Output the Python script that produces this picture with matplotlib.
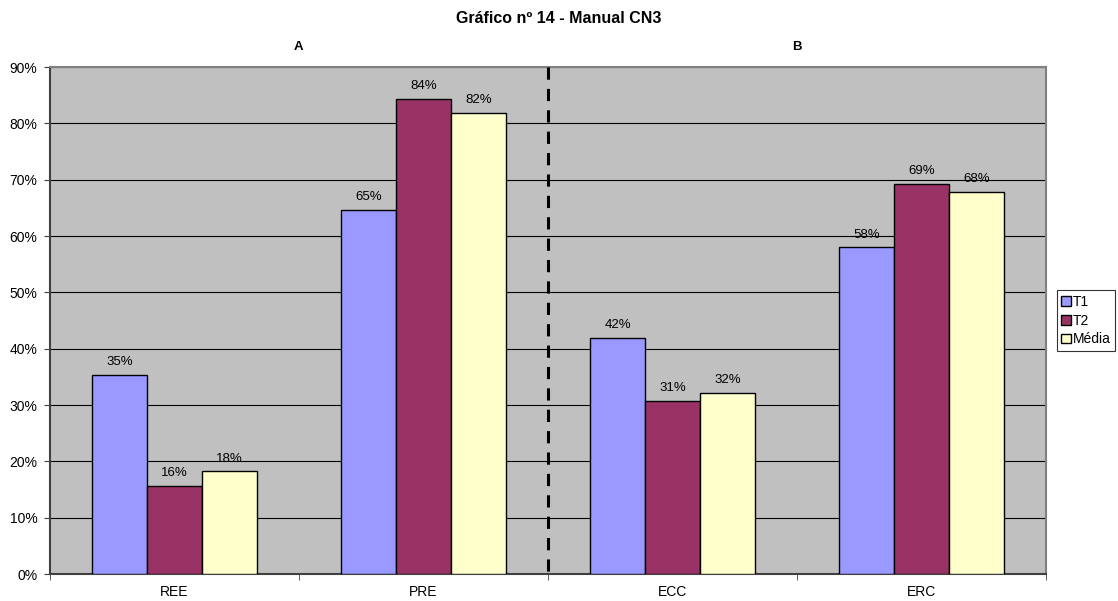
import numpy as np
import matplotlib
matplotlib.use('Agg')
from matplotlib import pyplot as plt
from matplotlib.ticker import FixedLocator, NullFormatter

plt.rcParams['font.family'] = ['Liberation Sans', 'DejaVu Sans']

categories = ['REE', 'PRE', 'ECC', 'ERC']
series = ['T1', 'T2', 'Média']
t1 = [35.4, 64.6, 41.9, 58.0]
t2 = [15.6, 84.4, 30.7, 69.3]
media = [18.2, 81.8, 32.1, 67.8]
groups = ['A', 'B']
yticks = [0, 10, 20, 30, 40, 50, 60, 70, 80, 90]

colors = ['#9999FF', '#993366', '#FFFFCC']

fig = plt.figure(figsize=(11.18, 6.01), dpi=100)
ax = fig.add_axes([0.0447, 0.0449, 0.8909, 0.8436])
ax.set_facecolor('#C0C0C0')

x = np.arange(len(categories))
w = 0.22
for k, vals in enumerate([t1, t2, media]):
  pos = x + (k - 1) * w
  ax.bar(pos, vals, width=w, color=colors[k], edgecolor='black', linewidth=1.0,
         label=series[k], zorder=3)
  for p, v in zip(pos, vals):
    ax.text(p, v + 1.2, '%d%%' % round(v), ha='center', va='bottom', fontsize=9.5, zorder=4)

ax.set_xlim(-0.5, len(categories) - 0.5)
ax.set_ylim(0, 90)
ax.set_yticks(yticks)
ax.set_yticklabels(['%d%%' % v for v in yticks])
ax.yaxis.grid(True, color='black', linewidth=0.8, zorder=1)
ax.set_xticks(x)
ax.set_xticklabels(categories)
ax.xaxis.set_minor_locator(FixedLocator(np.arange(-0.5, len(categories), 1.0)))
ax.xaxis.set_minor_formatter(NullFormatter())
ax.tick_params(axis='x', which='major', length=0, pad=8, labelsize=10)
ax.tick_params(axis='x', which='minor', length=4, color='#404040')
ax.tick_params(axis='y', length=4, labelsize=10, color='#404040', pad=5)
for s in ax.spines.values():
  s.set_color('#808080')
  s.set_linewidth(1.5)
ax.spines['left'].set_color('#404040')
ax.spines['bottom'].set_color('#404040')

# separator between groups
ax.plot([1.5, 1.5], [90, -0.6], color='black', linestyle=(0, (4, 3)), linewidth=2.2,
        clip_on=False, zorder=5)

# group labels
for gx, g in zip([0.5, 2.5], groups):
  ax.text(gx, 92.5, g, ha='center', va='bottom', fontsize=9.5, fontweight='bold')

fig.text(0.5, 0.97, 'Gráfico nº 14 - Manual CN3', ha='center', va='center',
         fontsize=11.5, fontweight='bold')

leg = ax.legend(loc='center left', bbox_to_anchor=(1.011, 0.5), fontsize=10, frameon=True,
                fancybox=False, edgecolor='black', handlelength=0.7, handleheight=0.7,
                handletextpad=0.15, borderpad=0.3, labelspacing=0.35, borderaxespad=0)
leg.get_frame().set_linewidth(0.8)

fig.savefig('out.png', dpi=100)
